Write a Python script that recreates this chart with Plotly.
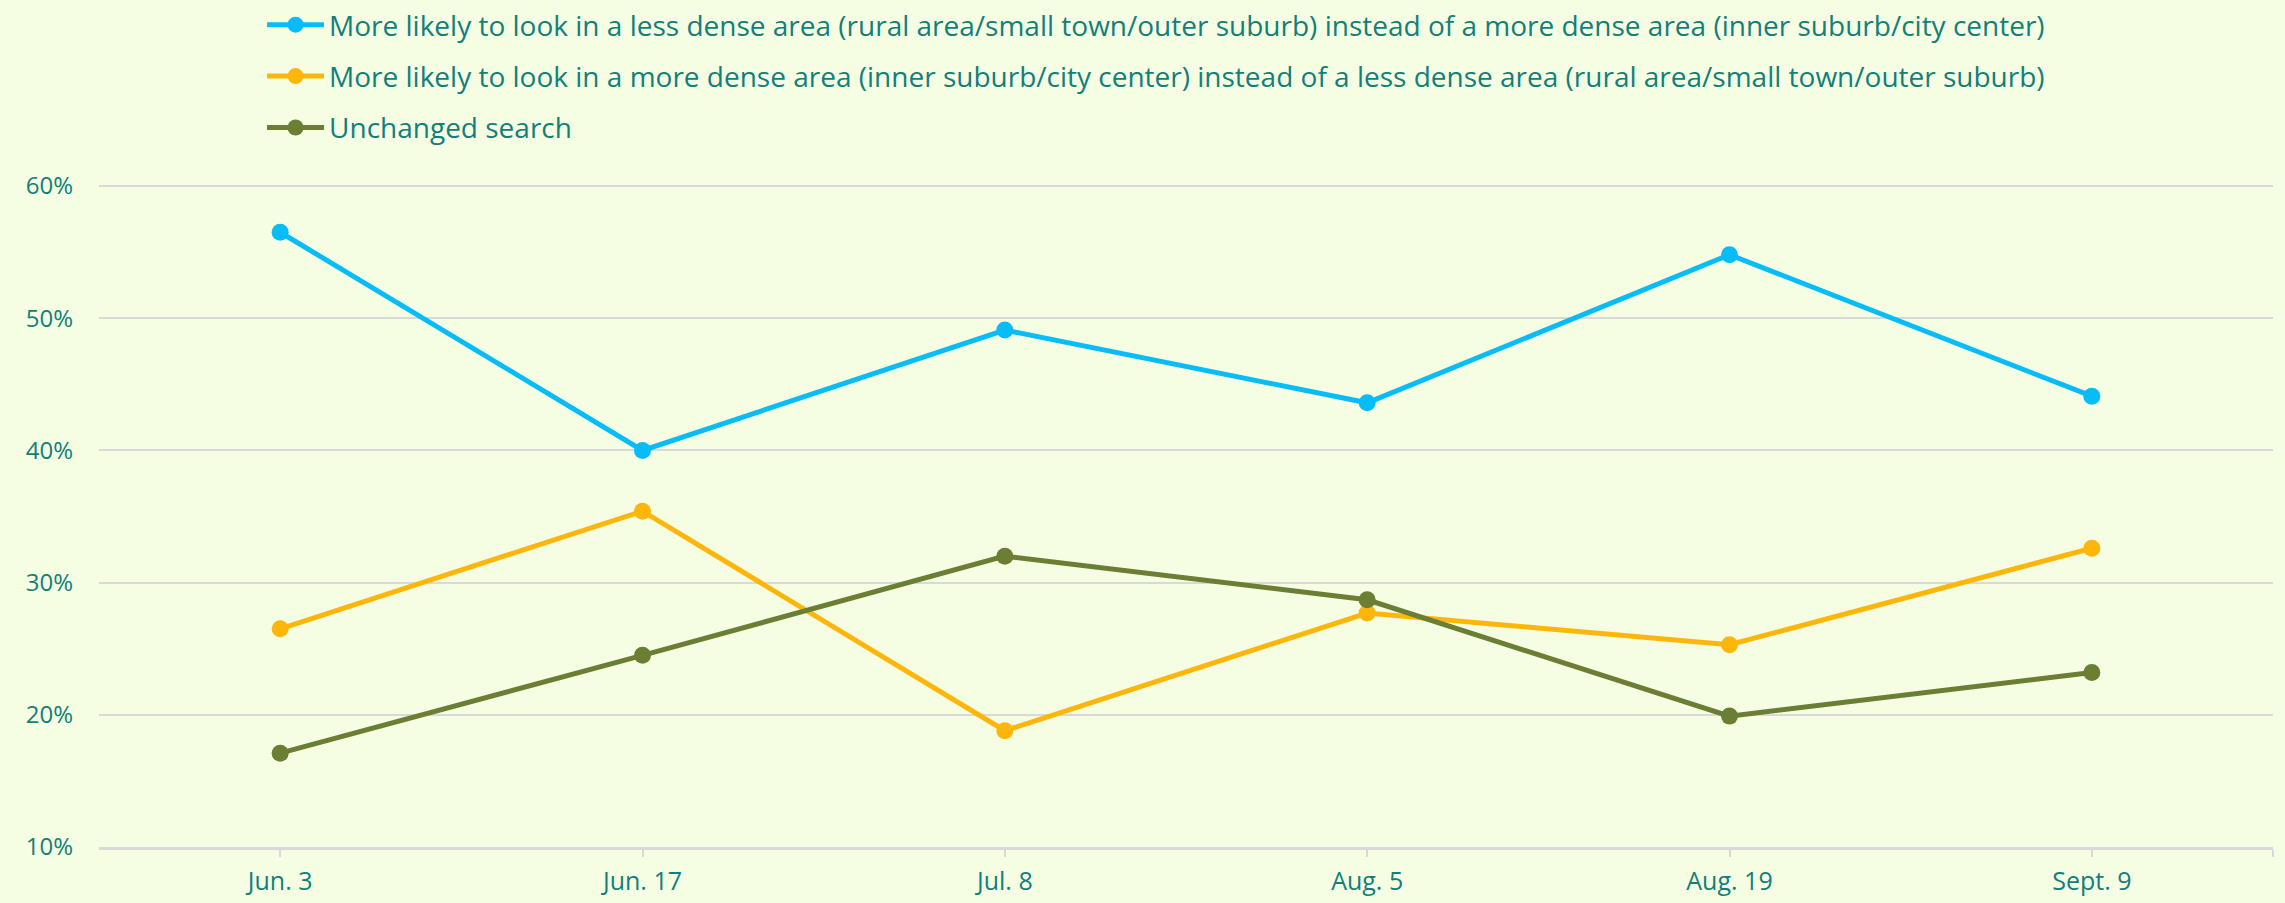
import plotly.graph_objects as go

categories = ["Jun. 3", "Jun. 17", "Jul. 8", "Aug. 5", "Aug. 19", "Sept. 9"]
less_dense = [0.565, 0.400, 0.491, 0.436, 0.548, 0.441]
more_dense = [0.265, 0.354, 0.188, 0.277, 0.253, 0.326]
unchanged = [0.171, 0.245, 0.320, 0.287, 0.199, 0.232]
series_names = [
    "More likely to look in a less dense area (rural area/small town/outer suburb) instead of a more dense area (inner suburb/city center)",
    "More likely to look in a more dense area (inner suburb/city center) instead of a less dense area (rural area/small town/outer suburb)",
    "Unchanged search",
]
colors = ["#08BCF8", "#FFB60A", "#6A7E34"]
y_ticks = [0.1, 0.2, 0.3, 0.4, 0.5, 0.6]

FONT = "Open Sans, Noto Sans, sans-serif"
TEXT_COLOR = "#137F7A"
BG = "#F5FEE3"
GRID = "#D9D9D9"

xs = list(range(len(categories)))
edge = len(categories) - 0.5

fig = go.Figure()
for i, (name, vals, col) in enumerate(zip(series_names, [less_dense, more_dense, unchanged], colors)):
    fig.add_trace(go.Scatter(
        x=xs, y=vals, name=name, mode="lines+markers",
        line=dict(color=col, width=5),
        marker=dict(color=col, size=17),
        legendgroup=f"g{i}",
    ))

fig.update_layout(
    width=2285, height=903,
    paper_bgcolor=BG, plot_bgcolor=BG,
    margin=dict(l=99, r=12, t=184, b=56, autoexpand=False),
    font=dict(family=FONT, color=TEXT_COLOR, size=25),
    showlegend=True,
    legend=dict(
        x=0.075, y=1.002, xanchor="left", yanchor="top", yref="container",
        bgcolor="rgba(0,0,0,0)", font=dict(size=28, family=FONT, color=TEXT_COLOR),
        tracegroupgap=12, itemwidth=57,
    ),
    xaxis=dict(
        range=[-0.5, edge], automargin=False,
        tickvals=xs + [edge], ticktext=categories + [""],
        showgrid=False, showline=True, linecolor=GRID, linewidth=3,
        ticks="outside", ticklen=7, tickcolor=GRID, tickwidth=2,
        ticklabelstandoff=3,
        tickfont=dict(size=25, family=FONT, color=TEXT_COLOR),
        zeroline=False,
    ),
    xaxis2=dict(
        overlaying="x", matches="x", anchor="y", automargin=False,
        tickvals=xs + [edge], ticktext=[""] * (len(xs) + 1),
        showgrid=False, showline=False, zeroline=False,
        ticks="inside", ticklen=7, tickcolor=GRID, tickwidth=2,
        side="bottom", showticklabels=False,
    ),
    yaxis=dict(
        range=[0.1, 0.6015], tickvals=y_ticks, tickformat=".0%", automargin=False,
        showgrid=True, gridcolor=GRID, gridwidth=2,
        showline=False, zeroline=False, ticks="", ticklabelstandoff=25,
        tickfont=dict(size=24, family=FONT, color=TEXT_COLOR),
    ),
)

fig.write_html(
    "out.html",
    config={"displayModeBar": False},
    post_script="document.body.style.margin='0';document.body.style.padding='0';",
)
